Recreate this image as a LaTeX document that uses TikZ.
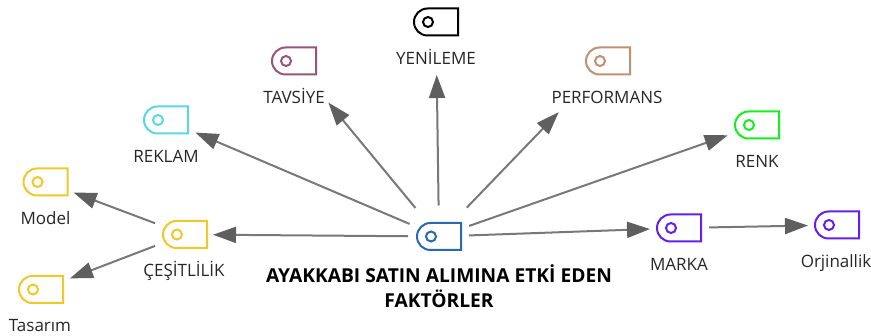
\documentclass[tikz,border=0pt]{standalone}
\usepackage{fontspec}
\setmainfont{Open Sans}
\usetikzlibrary{arrows.meta}
\usetikzlibrary{positioning}
\usetikzlibrary{shapes.misc}
\definecolor{yellow_tag}{RGB}{240,200,40}
\definecolor{cyan_tag}{RGB}{90,215,225}
\definecolor{plum_tag}{RGB}{150,85,125}
\definecolor{tan_tag}{RGB}{190,145,115}
\definecolor{green_tag}{RGB}{20,240,30}
\definecolor{violet_tag}{RGB}{100,30,240}
\definecolor{blue_tag}{RGB}{40,105,175}
\definecolor{arrow_line}{RGB}{120,120,120}
\definecolor{arrow_head}{RGB}{95,95,95}
\tikzstyle{tag} = [
    rounded rectangle,
    rounded rectangle east arc=none,
    draw=#1,
    line width=2pt,
    minimum width=44pt,
    minimum height=27pt,
    inner sep=0pt,
    path picture={
        \draw [#1, line width=2pt] ([xshift=14pt]path picture bounding box.west) circle (5pt);
    }
]
\tikzstyle{tag_label} = [
    font=\fontsize{17}{18}\selectfont,
    text=black!85,
    text height=12pt,
    text depth=0pt,
    inner sep=0pt
]
\tikzstyle{link} = [
    draw=arrow_line,
    line width=2pt,
    -{Triangle[length=23pt, width=16pt, color=arrow_head]}
]
\begin{document}
\begin{tikzpicture}[x=1pt, y=-1pt, node distance=15.5pt]
\useasboundingbox (0,0) rectangle (871,336);
% tags
\node [tag=blue_tag] (ayakkabi) at (439,236.5) {};
\node [tag=yellow_tag] (cesitlilik) at (185,234.5) {};
\node [tag=yellow_tag] (model) at (45.5,182) {};
\node [tag=yellow_tag] (tasarim) at (41,289.5) {};
\node [tag=cyan_tag] (reklam) at (166,120) {};
\node [tag=plum_tag] (tavsiye) at (294,61) {};
\node [tag=black] (yenileme) at (436,22) {};
\node [tag=tan_tag] (performans) at (608,61) {};
\node [tag=green_tag] (renk) at (757,125) {};
\node [tag=violet_tag] (marka) at (679,228) {};
\node [tag=violet_tag] (orjinallik) at (837,225) {};
% labels
\node [tag_label, below=of cesitlilik, xshift=-1pt] (cesitlilik_text) {ÇEŞİTLİLİK};
\node [tag_label, below=of model] (model_text) {Model};
\node [tag_label, below=of tasarim, xshift=-1pt] (tasarim_text) {Tasarım};
\node [tag_label, below=of reklam] (reklam_text) {REKLAM};
\node [tag_label, below=of tavsiye] (tavsiye_text) {TAVSİYE};
\node [tag_label, below=of yenileme] (yenileme_text) {YENİLEME};
\node [tag_label, below=of performans, xshift=-1pt] (performans_text) {PERFORMANS};
\node [tag_label, below=of renk] (renk_text) {RENK};
\node [tag_label, below=of marka] (marka_text) {MARKA};
\node [tag_label, below=of orjinallik, xshift=-1pt] (orjinallik_text) {Orjinallik};
\node [font=\fontsize{19.2}{25}\selectfont\bfseries, text=black, align=center, inner sep=0pt, below=13.5pt of ayakkabi] (ayakkabi_text) {AYAKKABI SATIN ALIMINA ETKİ EDEN\\FAKTÖRLER};
% arrows
\foreach \source/\target/\gapa/\gapb in {
    ayakkabi/cesitlilik/31/28,
    ayakkabi/reklam/32/32,
    ayakkabi/tavsiye/37/54,
    ayakkabi/yenileme/31/53,
    ayakkabi/performans/40/71,
    ayakkabi/renk/32/31,
    ayakkabi/marka/30/29,
    cesitlilik/model/32/30,
    cesitlilik/tasarim/32/31,
    marka/orjinallik/30/29%
}
    \draw [link, shorten <=\gapa pt, shorten >=\gapb pt] (\source.center) -- (\target.center);
\end{tikzpicture}
\end{document}
